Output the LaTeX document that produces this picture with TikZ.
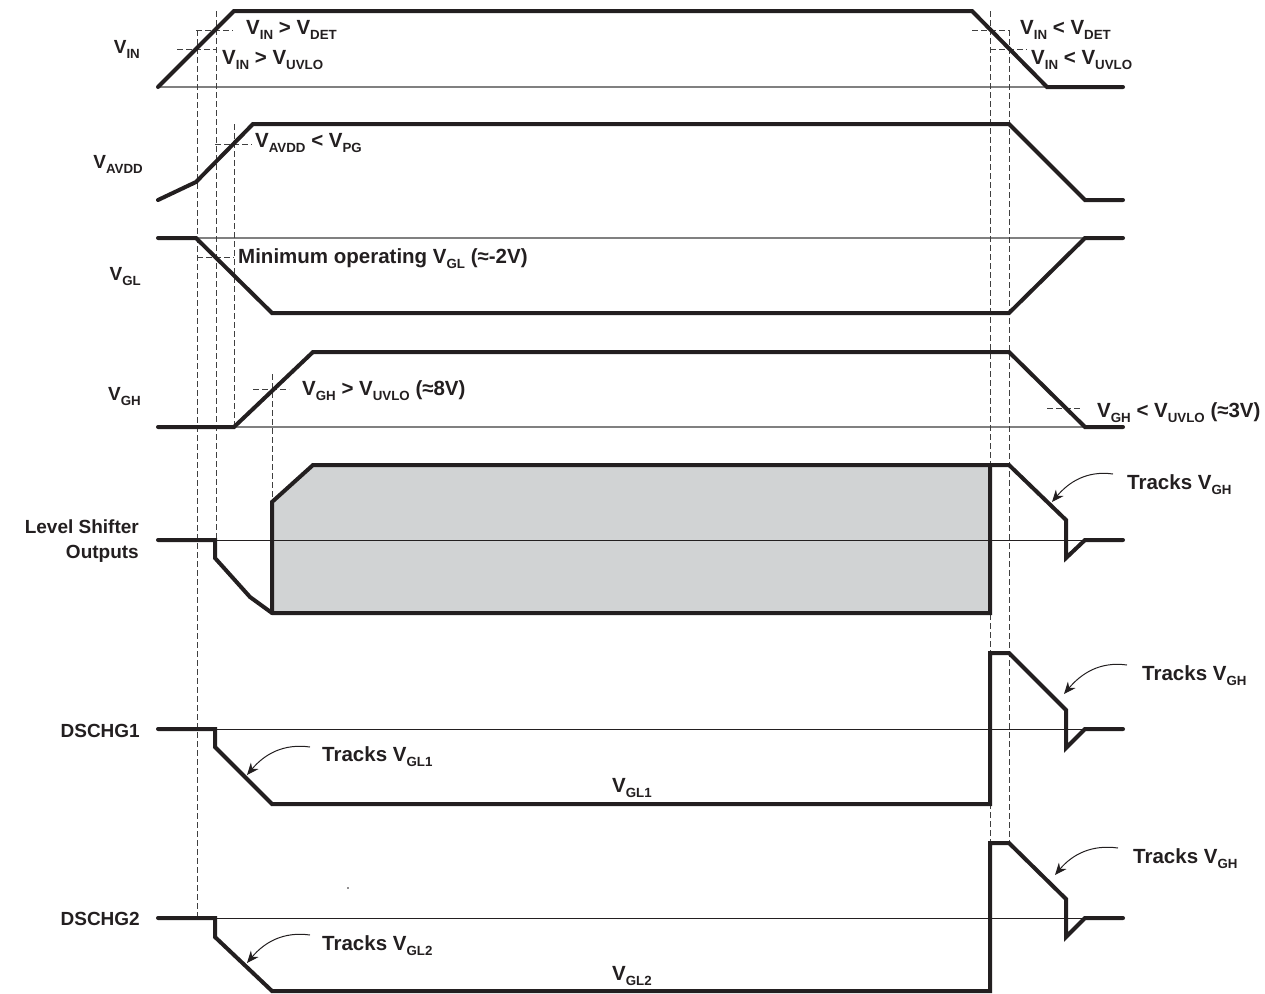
\documentclass[tikz,border=0pt]{standalone}
\usepackage{fontspec}
\setmainfont{Liberation Sans}
\usetikzlibrary{arrows.meta}
\definecolor{ink}{HTML}{231F20}
\definecolor{fillgray}{HTML}{D1D3D4}
\newcommand{\sbs}[1]{\raisebox{-5.5pt}{\fontsize{13.3}{13.3}\selectfont #1}}
\begin{document}
\begin{tikzpicture}[x=1pt,y=-1pt,
  sig/.style={draw=ink,line width=4pt,line cap=round,line join=miter},
  basegray/.style={draw=black!50,line width=1.1pt},
  baseblack/.style={draw=ink,line width=1pt},
  dsh/.style={draw=black!75,line width=0.9pt,dash pattern=on 6pt off 3pt},
  lbl/.style={anchor=base west,inner sep=0pt,font=\fontsize{20.5}{24}\selectfont\bfseries,text=ink},
  ylbl/.style={anchor=base east,inner sep=0pt,font=\fontsize{19}{23}\selectfont\bfseries,text=ink},
  arr/.style={draw=ink,line width=1pt,-{Stealth[length=12pt,width=10pt]}}]
\useasboundingbox (0,0) rectangle (1265,993);

% ---------- thin reference lines ----------
\draw[basegray] (158,87) -- (1047,87);
\draw[basegray] (196,238) -- (1085,238);
\draw[basegray] (234,427) -- (1085,427);

% ---------- level shifter fill ----------
\fill[fillgray] (272,613) -- (272,502) -- (313,465) -- (990,465) -- (990,613) -- cycle;
\draw[baseblack] (215,540) -- (1085,540);
\draw[baseblack] (215,729) -- (1085,729);
\draw[baseblack] (215,918) -- (1085,918);

% ---------- dashed guides ----------
\draw[dsh] (197,30) -- (197,918);
\draw[dsh] (216,11) -- (216,540);
\draw[dsh] (234,124) -- (234,427);
\draw[dsh] (272,374) -- (272,502);
\draw[dsh] (196,30) -- (233,30);
\draw[dsh] (177,49) -- (216,49);
\draw[dsh] (215,144) -- (252,144);
\draw[dsh] (197,257) -- (234,257);
\draw[dsh] (253,389) -- (289,389);
\draw[dsh] (990,11) -- (990,843);
\draw[dsh] (1009,30) -- (1009,843);
\draw[dsh] (972,30) -- (1009,30);
\draw[dsh] (990,49) -- (1027,49);
\draw[dsh] (1047,408) -- (1082,408);

% ---------- signals ----------
\draw[sig] (158,87) -- (234,11) -- (972,11) -- (1047,87) -- (1123,87);
\draw[sig] (158,200) -- (196,182) -- (253,124) -- (1009,124) -- (1085,200) -- (1123,200);
\draw[sig] (158,238) -- (196,238) -- (272,313) -- (1009,313) -- (1085,238) -- (1123,238);
\draw[sig] (158,427) -- (234,427) -- (313,352) -- (1009,352) -- (1085,427) -- (1123,427);
% level shifter outputs
\draw[sig] (158,540) -- (215,540) -- (215,558) -- (250,597) -- (272,613);
\draw[sig] (272,613) -- (272,502) -- (313,465) -- (990,465) -- (990,613) -- (272,613);
\draw[sig] (990,465) -- (1009,465) -- (1066,520) -- (1066,558) -- (1085,540) -- (1123,540);
% DSCHG1
\draw[sig] (158,729) -- (215,729) -- (215,747) -- (272,804) -- (990,804) -- (990,653) -- (1009,653) -- (1066,710) -- (1066,748) -- (1085,729) -- (1123,729);
% DSCHG2
\draw[sig] (158,918) -- (215,918) -- (215,937) -- (272,991) -- (990,991) -- (990,843) -- (1009,843) -- (1066,899) -- (1066,937) -- (1085,918) -- (1123,918);

% stray speck
\fill[ink] (348,888) circle (0.8pt);

% ---------- left labels ----------
\node[ylbl] (lvin)  at (140,53)  {V\sbs{IN}};
\node[ylbl] (lavdd) at (143,168) {V\sbs{AVDD}};
\node[ylbl] (lvgl)  at (141,280) {V\sbs{GL}};
\node[ylbl] (lvgh)  at (141,400) {V\sbs{GH}};
\node[ylbl] (lls1)  at (139,533) {Level Shifter};
\node[ylbl] (lls2)  at (139,558) {Outputs};
\node[ylbl] (ld1)   at (140,737) {DSCHG1};
\node[ylbl] (ld2)   at (140,925) {DSCHG2};

% ---------- annotations ----------
\node[lbl] (t1) at (246,34)  {V\sbs{IN} > V\sbs{DET}};
\node[lbl] (t2) at (222,64)  {V\sbs{IN} > V\sbs{UVLO}};
\node[lbl] (t3) at (1020,34) {V\sbs{IN} < V\sbs{DET}};
\node[lbl] (t4) at (1031,64) {V\sbs{IN} < V\sbs{UVLO}};
\node[lbl] (t5) at (255,147) {V\sbs{AVDD} < V\sbs{PG}};
\node[lbl] (t6) at (238,263) {Minimum operating V\sbs{GL} (≈-2V)};
\node[lbl] (t7) at (302,395) {V\sbs{GH} > V\sbs{UVLO} (≈8V)};
\node[lbl] (t8) at (1097,417) {V\sbs{GH} < V\sbs{UVLO} (≈3V)};
\node[lbl] (k1) at (1127,489) {Tracks V\sbs{GH}};
\node[lbl] (k2) at (1142,680) {Tracks V\sbs{GH}};
\node[lbl] (k3) at (1133,863) {Tracks V\sbs{GH}};
\node[lbl] (k4) at (322,761) {Tracks V\sbs{GL1}};
\node[lbl] (k5) at (322,950) {Tracks V\sbs{GL2}};
\node[lbl] (g1) at (612,792) {V\sbs{GL1}};
\node[lbl] (g2) at (612,980) {V\sbs{GL2}};

% ---------- arrows ----------
\coordinate (a1s) at (1113,474); \coordinate (a1e) at (1052,502);
\coordinate (a2s) at (1127,665); \coordinate (a2e) at (1064,694);
\coordinate (a3s) at (1118,848); \coordinate (a3e) at (1055,875);
\coordinate (a4s) at (310,747);  \coordinate (a4e) at (247,775);
\coordinate (a5s) at (310,935);  \coordinate (a5e) at (247,963);
\draw[arr] (a1s) to[out=172,in=50] (a1e);
\draw[arr] (a2s) to[out=172,in=50] (a2e);
\draw[arr] (a3s) to[out=172,in=50] (a3e);
\draw[arr] (a4s) to[out=172,in=50] (a4e);
\draw[arr] (a5s) to[out=172,in=50] (a5e);
\end{tikzpicture}
\end{document}
